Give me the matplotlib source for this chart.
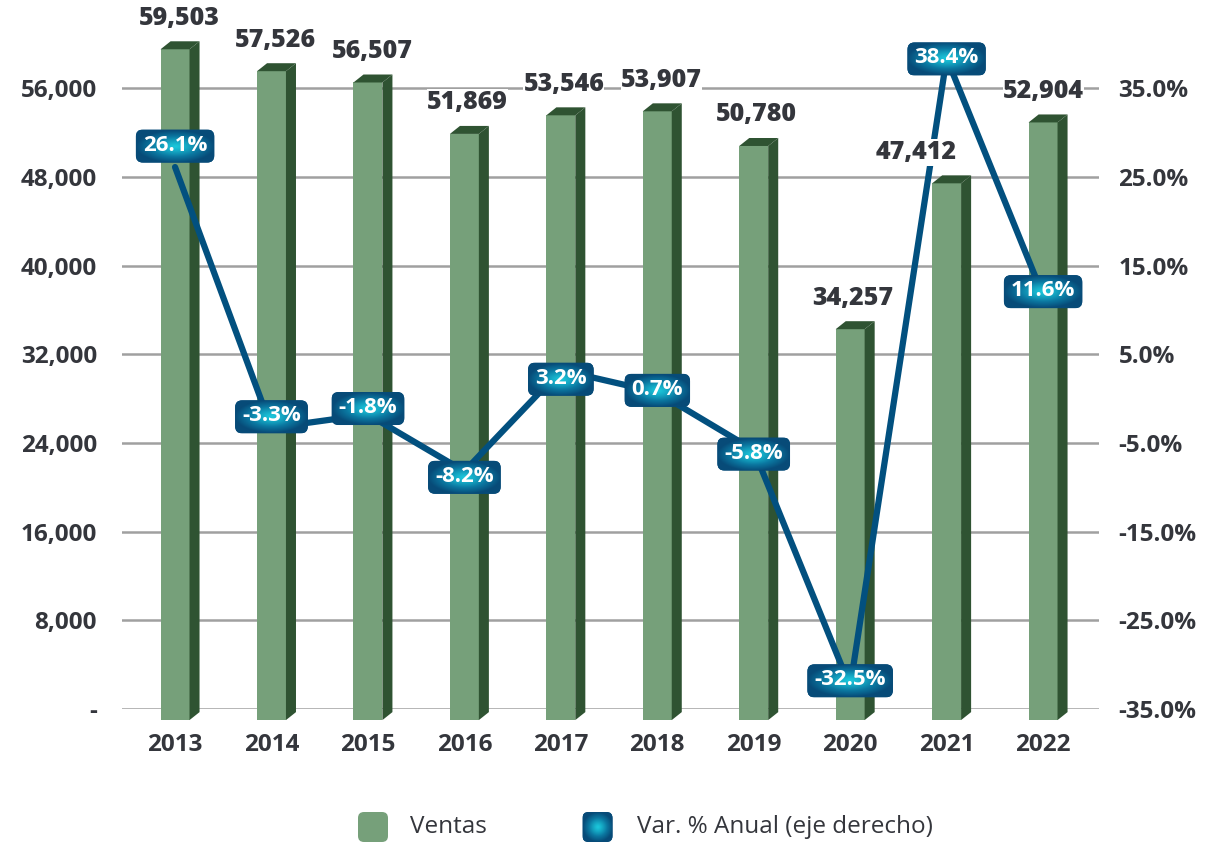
import numpy as np
import matplotlib.pyplot as plt
from matplotlib.patches import Polygon, FancyBboxPatch
from matplotlib.image import BboxImage
from matplotlib.transforms import Bbox, IdentityTransform
from matplotlib.colors import LinearSegmentedColormap

years = ['2013', '2014', '2015', '2016', '2017', '2018', '2019', '2020', '2021', '2022']
ventas = [59503, 57526, 56507, 51869, 53546, 53907, 50780, 34257, 47412, 52904]
var_pct = [26.1, -3.3, -1.8, -8.2, 3.2, 0.7, -5.8, -32.5, 38.4, 11.6]

left_ticks = [0, 8000, 16000, 24000, 32000, 40000, 48000, 56000]
right_ticks = [-35, -25, -15, -5, 5, 15, 25, 35]

plt.rcParams['font.family'] = ['Open Sans', 'DejaVu Sans']

TXT = '#34363c'
FRONT = '#76a07a'
DARK = '#2f5332'
LINE = '#02507f'
grad_cmap = LinearSegmentedColormap.from_list(
    'box', [(0, '#074b78'), (0.45, '#0b77a0'), (1, '#1bc6da')])

W, H = 1217, 843
fig = plt.figure(figsize=(W / 100, H / 100), dpi=100)
ax = fig.add_axes([122 / W, (H - 709) / H, (1099 - 122) / W, (709 - 10.5) / H])
ax2 = ax.twinx()

ymax = 63000
ax.set_ylim(0, ymax)
ax2.set_ylim(-35, -35 + ymax / 56000 * 70)
ax.set_xlim(-0.55, 9.58)

# 3D-ish bars
bw = 0.30
ddx = 0.104
ddy = 720
base = -1000
x = np.arange(len(years))
for xi, v in zip(x, ventas):
    x0, x1 = xi - bw / 2, xi + bw / 2
    front = Polygon([(x0, base), (x1, base), (x1, v), (x0, v)], closed=True,
                    fc=FRONT, ec='none', zorder=3, clip_on=False)
    side = Polygon([(x1, base), (x1 + ddx, base + ddy), (x1 + ddx, v + ddy), (x1, v)],
                   closed=True, fc=DARK, ec='none', zorder=3, clip_on=False)
    top = Polygon([(x0, v), (x0 + ddx, v + ddy), (x1 + ddx, v + ddy), (x1, v)],
                  closed=True, fc=DARK, ec='none', zorder=3, clip_on=False)
    for p in (front, side, top):
        ax.add_patch(p)

ax.set_yticks(left_ticks)
ax.set_yticklabels(['-' if t == 0 else f'{t:,}' for t in left_ticks])
ax.grid(axis='y', color='#a0a0a0', linewidth=1.8)
ax.set_axisbelow(True)
ax.set_xticks(x)
ax.set_xticklabels(years)
ax.tick_params(axis='y', length=0, pad=18, labelsize=17.5, labelcolor=TXT)
ax.tick_params(axis='x', length=0, pad=17, labelsize=17.5, labelcolor=TXT)
ax2.set_yticks(right_ticks)
ax2.set_yticklabels([f'{t:.1f}%' for t in right_ticks])
ax2.tick_params(axis='y', length=0, pad=14, labelsize=17.5, labelcolor=TXT)
for lab in ax.get_xticklabels() + ax.get_yticklabels() + ax2.get_yticklabels():
    lab.set_fontweight('bold')
for a in (ax, ax2):
    for s in a.spines.values():
        s.set_visible(False)

ax2.plot(x, var_pct, color=LINE, linewidth=4.5, zorder=4, solid_capstyle='round')

# value labels sit on ax2 so their white backing hides the line (47,412)
label_dx = [4, 4, 4, 3, 3, 4, 3, 3, -30, 0]
for xi, v, dxp in zip(x, ventas, label_dx):
    ax2.annotate(f'{v:,}', (xi, v), xycoords=ax.transData, xytext=(dxp, 31),
                 textcoords='offset pixels', ha='center', va='center', color='white',
                 fontsize=18, fontweight='bold',
                 bbox=dict(boxstyle='square,pad=0.05', fc='white', ec='none'), zorder=9)
    ax2.annotate(f'{v:,}', (xi, v), xycoords=ax.transData, xytext=(dxp, 31),
                 textcoords='offset pixels', ha='center', va='center', color=TXT,
                 fontsize=18, fontweight=800, zorder=10)

fig.canvas.draw()
renderer = fig.canvas.get_renderer()


def gradient_box(cx, cy, w, h, zorder, parent, radius=7):
    patch = FancyBboxPatch((cx - w / 2, cy - h / 2), w, h,
                           boxstyle=f'round,pad=0,rounding_size={radius}',
                           transform=IdentityTransform(), fc='#074b78', ec='none',
                           zorder=zorder, clip_on=False)
    parent.add_artist(patch)
    gx, gy = np.meshgrid(np.linspace(-1, 1, 120), np.linspace(-1, 1, 60))
    r = np.clip(np.sqrt(gx ** 2 + gy ** 2), 0, 1)
    im = BboxImage(Bbox.from_extents(cx - w / 2, cy - h / 2, cx + w / 2, cy + h / 2),
                   cmap=grad_cmap, interpolation='bilinear', origin='lower')
    im.set_data(1 - r ** 1.25)
    im.set_zorder(zorder + 0.1)
    im.set_clip_path(patch)
    parent.add_artist(im)
    return patch


# percentage labels in gradient boxes
box_dy = [22, 12, 7, -5, -8, 3, -3, 7, 0, 5]
for xi, v, dyp in zip(x, var_pct, box_dy):
    px, py = ax2.transData.transform((xi, v))
    py += dyp
    t = ax2.text(px, py, f'{v:.1f}%', transform=IdentityTransform(), ha='center',
                 va='center', fontsize=16, fontweight='bold', color='white', zorder=12)
    bb = t.get_window_extent(renderer)
    gradient_box(px, py - 1, bb.width + 14, 33, 11, ax2)

# legend
leg_patch = FancyBboxPatch((358, H - 842), 30, 30, boxstyle='round,pad=0,rounding_size=6',
                           transform=IdentityTransform(), fc=FRONT, ec='none', zorder=5)
fig.add_artist(leg_patch)
gradient_box(597.5, H - 827, 30, 30, 5, fig, radius=6)
fig.text(410 / W, (H - 827) / H, 'Ventas', ha='left', va='center', fontsize=17.5,
         fontweight=500, color=TXT)
fig.text(637 / W, (H - 827) / H, 'Var. % Anual (eje derecho)', ha='left', va='center',
         fontsize=17.5, fontweight=500, color=TXT)

fig.savefig('out.png', dpi=100)
